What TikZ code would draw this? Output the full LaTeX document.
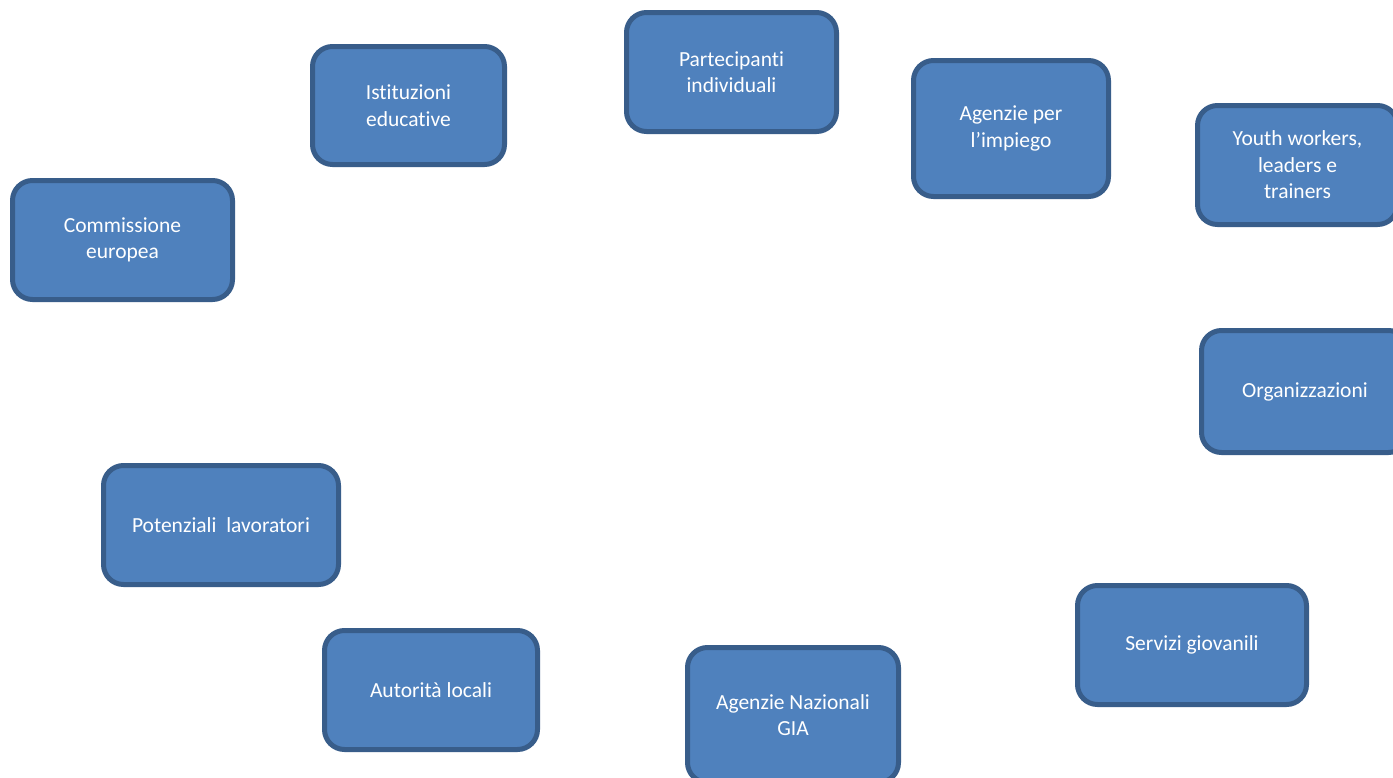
\documentclass[tikz,border=0pt]{standalone}
\usepackage{fontspec}
\setmainfont{Carlito}[Ligatures=NoCommon]
\definecolor{boxfill}{HTML}{4F81BD}
\definecolor{boxline}{HTML}{385D8A}
\tikzset{
  box/.style={draw=boxline, fill=boxfill, line width=5pt, rounded corners=20pt,
    text=white, align=center, inner sep=0pt,
    font=\fontsize{21.5}{26.5}\selectfont},
}
\newcommand{\bx}[7]{% name, cx, cy, W, H, text
  \node[box, minimum width=#4pt-5pt, minimum height=#5pt-5pt] (#1) at (#2,#3) {#6};}
\begin{document}
\begin{tikzpicture}[x=1pt,y=-1pt]
\useasboundingbox (0,0) rectangle (1393,777);
\clip (0,0) rectangle (1393,777);
\fill[white] (0,0) rectangle (1393,777);
\bx{ie}{408.5}{105.5}{197}{123}{Istituzioni\\educative}{}
\bx{pi}{731.5}{72}{215}{124}{Partecipanti\\individuali}{}
\bx{ap}{1011}{128.5}{200}{141}{Agenzie per\\l’impiego}{}
\bx{yw}{1297.5}{165}{205}{124}{Youth workers,\\leaders e\\trainers}{}
\bx{ce}{122.5}{240}{225}{124}{Commissione\\europea}{}
\bx{or}{1305}{391.5}{212}{127}{Organizzazioni}{}
\bx{pl}{221}{525}{240}{124}{Potenziali~~lavoratori}{}
\bx{sg}{1192}{645}{234}{124}{Servizi giovanili}{}
\bx{al}{431}{690}{218}{124}{Autorità locali}{}
\bx{an}{793}{715}{216}{140}{Agenzie Nazionali\\GIA}{}
\end{tikzpicture}
\end{document}
